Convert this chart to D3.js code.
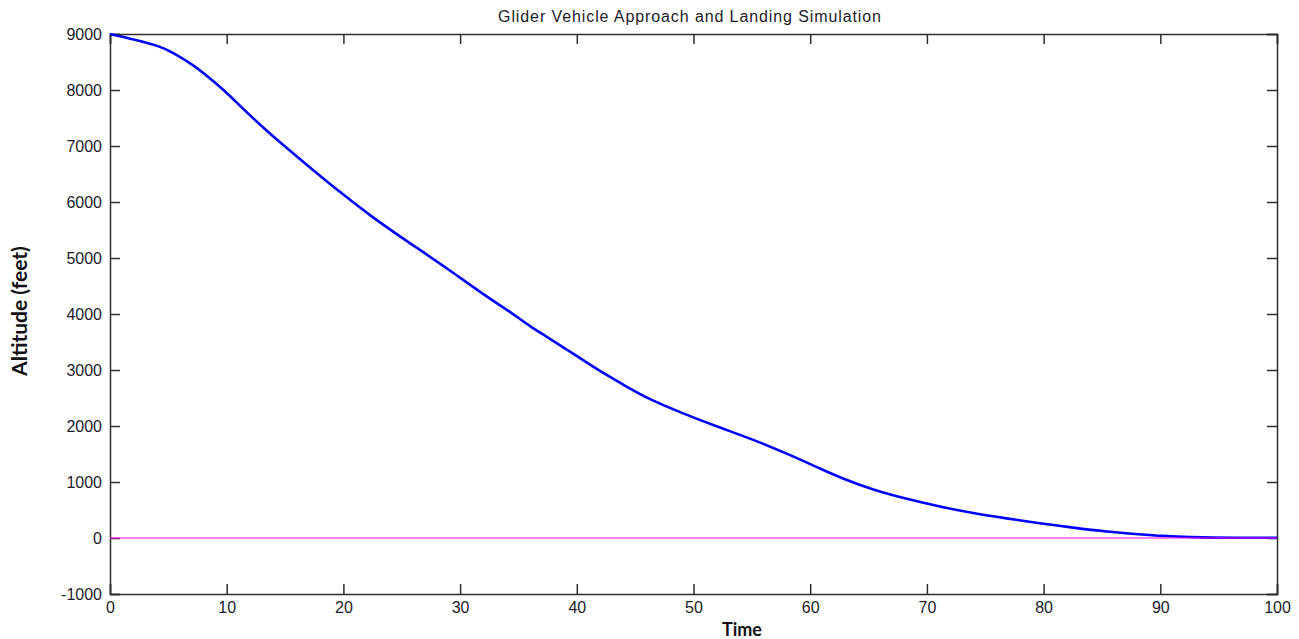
<!DOCTYPE html>
<html>
<head>
<meta charset="utf-8">
<script src="https://cdn.jsdelivr.net/npm/d3@7"></script>
<style>
  html, body { margin: 0; padding: 0; background: #fff; }
  svg { display: block; }
</style>
</head>
<body>
<svg id="chart" width="1299" height="639"></svg>
<script>
const titleText = "Glider Vehicle Approach and Landing Simulation";
const xLabel = "Time";
const yLabel = "Altitude (feet)";
const xTicks = [0, 10, 20, 30, 40, 50, 60, 70, 80, 90, 100];
const yTicks = [-1000, 0, 1000, 2000, 3000, 4000, 5000, 6000, 7000, 8000, 9000];

const time = [0, 2.1, 4.3, 5.3, 7.3, 9.0, 10, 11, 13.3, 15, 16.7, 18.4, 20, 22.4, 25.3, 28.9, 32.0, 34.3, 36.0, 37.7, 39.4, 41.4, 42.6, 44.0, 46.3, 49.1, 52.0, 55.1, 58.3, 61.1, 62.6, 65.4, 68.3, 71.1, 74.0, 76.8, 79.7, 82.5, 85.4, 88.3, 90.1, 92.8, 93.5, 100];
const altitude = [9000, 8900, 8780, 8680, 8430, 8130, 7950, 7745, 7290, 6990, 6690, 6400, 6130, 5740, 5320, 4815, 4345, 4040, 3775, 3560, 3330, 3060, 2905, 2735, 2465, 2225, 1990, 1760, 1482, 1214, 1077, 857, 696, 560, 440, 351, 262, 185, 113, 65, 36, 18, 5, 5];

const groundTime = [0, 100];
const groundAlt = [0, 0];

const svg = d3.select("#chart");
const L = 110, R = 1277, T = 34, B = 594;

const x = d3.scaleLinear().domain([0, 100]).range([L, R]);
const y = d3.scaleLinear().domain([-1000, 9000]).range([B, T]);

const axisColor = "#2e2e2e";
const textColor = "#1c1c28";
const tickFont = "Arial, 'Liberation Sans', sans-serif";
const fmt = d => String(d);

// Axes (ticks inside, mirrored)
const gB = svg.append("g").attr("transform", `translate(0,${B})`)
  .call(d3.axisBottom(x).tickValues(xTicks).tickSize(-10).tickPadding(8).tickFormat(fmt));
const gT = svg.append("g").attr("transform", `translate(0,${T})`)
  .call(d3.axisTop(x).tickValues(xTicks).tickSize(-10).tickFormat(""));
const gL = svg.append("g").attr("transform", `translate(${L},0)`)
  .call(d3.axisLeft(y).tickValues(yTicks).tickSize(-10).tickPadding(8).tickFormat(fmt));
const gR = svg.append("g").attr("transform", `translate(${R},0)`)
  .call(d3.axisRight(y).tickValues(yTicks).tickSize(-10).tickFormat(""));

[gB, gT, gL, gR].forEach(g => {
  g.select(".domain").attr("stroke", axisColor).attr("stroke-width", 1.5);
  g.selectAll(".tick line").attr("stroke", axisColor).attr("stroke-width", 1.5);
  g.selectAll(".tick text").attr("fill", textColor)
    .style("font-family", tickFont).style("font-size", "16px");
});

const line = d3.line().x(d => x(d[0])).y(d => y(d[1]));
const smooth = d3.line().x(d => x(d[0])).y(d => y(d[1])).curve(d3.curveBasis);

svg.append("path")
  .datum(time.map((t, i) => [t, altitude[i]]))
  .attr("d", smooth)
  .attr("fill", "none")
  .attr("stroke", "#0000ff")
  .attr("stroke-width", 2.6);

svg.append("path")
  .datum(groundTime.map((t, i) => [t, groundAlt[i]]))
  .attr("d", line)
  .attr("fill", "none")
  .attr("stroke", "#ff00ff")
  .attr("stroke-width", 1.2);

// Title
svg.append("text")
  .attr("x", 690).attr("y", 22)
  .attr("text-anchor", "middle")
  .attr("fill", textColor)
  .style("font-family", tickFont)
  .style("font-size", "16px")
  .style("letter-spacing", "0.9px")
  .text(titleText);

// X label
svg.append("text")
  .attr("x", 742).attr("y", 636)
  .attr("text-anchor", "middle")
  .attr("fill", "#111")
  .style("font-family", "Lato, 'Open Sans', sans-serif")
  .style("font-weight", "bold")
  .style("font-size", "18px")
  .text(xLabel);

// Y label
svg.append("text")
  .attr("transform", "translate(27,311) rotate(-90)")
  .attr("text-anchor", "middle")
  .attr("fill", "#111")
  .style("font-family", "Lato, 'Open Sans', sans-serif")
  .style("font-weight", "bold")
  .style("font-size", "21px")
  .text(yLabel);
</script>
</body>
</html>
